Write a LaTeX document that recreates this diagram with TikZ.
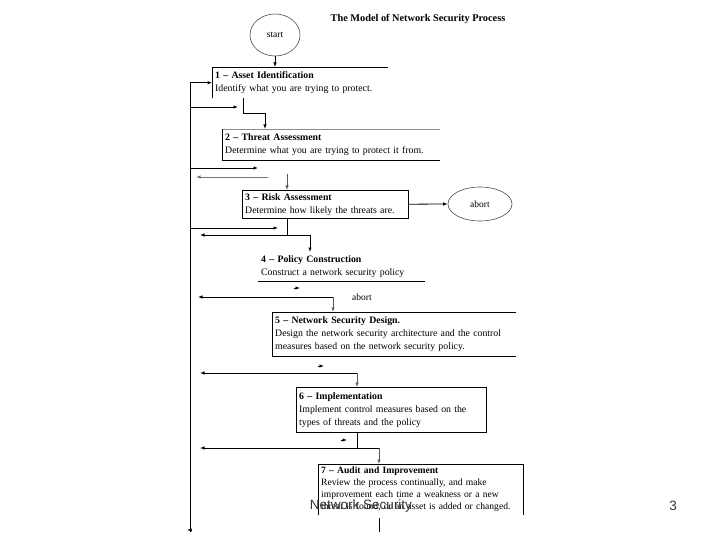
\documentclass[tikz,border=0pt]{standalone}
\usepackage{fontspec}
\setmainfont{Liberation Serif}
\newfontfamily\footfont{Liberation Sans}
\usetikzlibrary{arrows.meta,shapes.geometric}
\begin{document}
\begin{tikzpicture}[x=1pt,y=-1pt,
  arr/.style={-{Latex[length=4.5pt,width=3.5pt]}, line width=0.8pt},
  ln/.style={line width=0.8pt},
  boxn/.style={anchor=north west, inner xsep=3pt, inner ysep=0pt, align=left,
    font=\fontsize{9.8}{13}\selectfont},
  oval/.style={ellipse, draw=black!70, line width=0.6pt, inner sep=0pt,
    font=\fontsize{9.5}{11}\selectfont},
  foot/.style={font=\footfont\fontsize{13.5}{15}\selectfont, text=black!80, inner sep=0pt}]
\useasboundingbox (0,0) rectangle (720,540);

% title
\node[font=\bfseries\fontsize{10.3}{12}\selectfont] (title) at (418,19) {The Model of Network Security Process};

% ovals
\node[oval, minimum width=50pt, minimum height=42pt] (start) at (275,35) {start};
\node[oval, minimum width=64pt, minimum height=34pt] (abort) at (480,204) {abort};

% boxes
\node[boxn, text width=170pt, minimum height=31pt] (b1) at (212,67)
  {\textbf{1 – Asset Identification}\\Identify what you are trying to protect.};
\node[boxn, text width=212pt, minimum height=31pt] (b2) at (222,129)
  {\textbf{2 – Threat Assessment}\\Determine what you are trying to protect it from.};
\node[boxn, text width=160pt, minimum height=28pt] (b3) at (242,190)
  {\textbf{3 – Risk Assessment}\\Determine how likely the threats are.};
\node[boxn, text width=161pt, minimum height=29pt] (b4) at (258,252)
  {\textbf{4 – Policy Construction}\\Construct a network security policy};
\node[boxn, text width=238pt, minimum height=44pt] (b5) at (272,312)
  {\textbf{5 – Network Security Design.}\\Design the network security architecture and the control\\measures based on the network security policy.};
\node[boxn, text width=184pt, minimum height=45pt] (b6) at (296,387)
  {\textbf{6 – Implementation}\\Implement control measures based on the\\types of threats and the policy};
\node[boxn, text width=199pt, minimum height=51pt, font=\fontsize{9.6}{12}\selectfont] (b7) at (318,464)
  {\textbf{7 – Audit and Improvement}\\Review the process continually, and make\\improvement each time a weakness or a new\\threat is found, or an asset is added or changed.};

% visible box edges
\draw[ln] (b1.south west) -- (b1.north west) -- (b1.north east);
\draw[ln, draw=black!45] (b2.north west) -- (b2.north east);
\draw[ln] (b2.north west) -- (b2.south west) -- (b2.south east);
\draw[ln] (b3.north west) rectangle (b3.south east);
\draw[ln] (b4.south west) -- (b4.south east);
\draw[ln] (b5.north east) -- (b5.north west) -- (b5.south west) -- (b5.south east);
\draw[ln] (b6.north west) rectangle (b6.south east);
\draw[ln] (b7.south west) -- (b7.north west) -- (b7.north east) -- (b7.south east);

% main flow
\draw[arr] (start.south) -- (start.south |- b1.north);
\draw[arr] ([xshift=31pt]b1.south west) -- ++(0,15) -| ([xshift=43pt]b2.north west);
\coordinate (lb) at (190,532);
\draw[arr] (lb) |- (b1.west);
\draw[arr] (190,107) -- (238,107);
\draw[arr] (190,168) -- (258,168);
\draw[arr, draw=black!55] (268,177) -- (196,177);
\draw[arr, draw=black!65] ([xshift=45pt,yshift=16pt]b3.north west) -- ([xshift=45pt]b3.north west);
\draw[arr] (b3.east) -- (abort.west);

\draw[arr] (190,228) -- (278,228);
\draw[ln] ([xshift=45pt]b3.south west) -- ++(0,17);
\draw[arr] (310,235) -- (200,235);
\draw[arr] (310,235) -- ([xshift=52pt]b4.north west);

\draw[arr] (294,288) -- (300,288);
\draw[arr] (333,297) -- (198,297);
\draw[arr, draw=black!65] (333,297) -- ([xshift=61pt]b5.north west);
\node[font=\fontsize{9.5}{11}\selectfont] (ab2) at (362,297) {abort};

\draw[arr] (318,366) -- (324,366);
\draw[arr] (357,373) -- (200,373);
\draw[arr, draw=black!65] (357,373) -- ([xshift=61pt]b6.north west);

\draw[ln] ([xshift=61pt]b6.south west) -- ++(0,16);
\draw[arr] (341,440) -- (347,440);
\draw[arr] (379,448) -- (200,448);
\draw[arr, draw=black!65] (379,448) -- ([xshift=61pt]b7.north west);

\draw[ln] (379,518) -- (379,532);
\draw[arr] (192,530) -- (187,530);

% footer
\node[foot] (ft) at (361,506) {Network Security};
\node[foot] (pg) at (673,506) {3};
\end{tikzpicture}
\end{document}
